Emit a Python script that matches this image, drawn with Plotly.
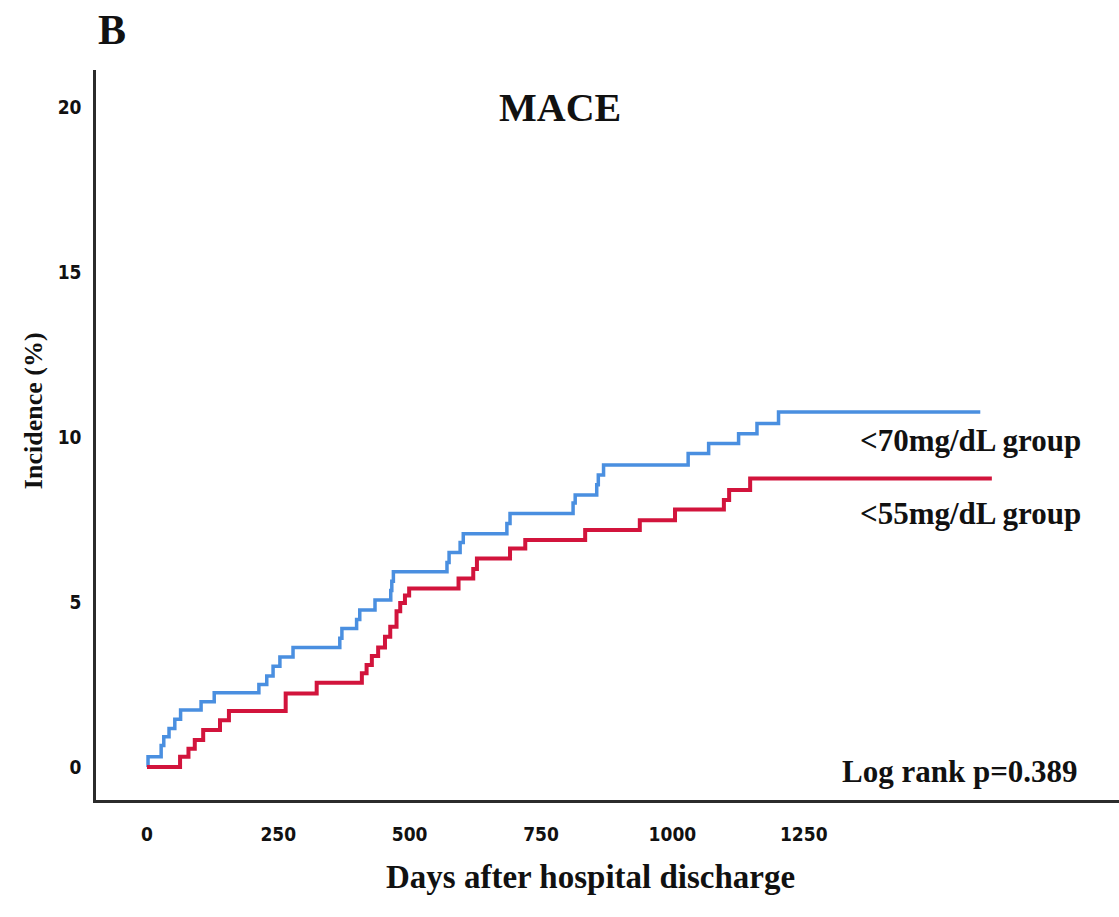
import plotly.graph_objects as go

# Cumulative incidence (%) step data, days after discharge
days_70 = [0, 2, 27, 32, 42, 53, 64, 103, 128, 213, 228, 240, 253, 278, 367, 371,
           399, 405, 434, 464, 466, 469, 571, 575, 596, 602, 685, 691, 811, 815,
           856, 859, 869, 1030, 1069, 1126, 1161, 1202, 1586]
inc_70 = [0, 0.31, 0.65, 0.92, 1.17, 1.45, 1.73, 1.98, 2.25, 2.5, 2.76, 3.05, 3.33,
          3.62, 3.9, 4.2, 4.47, 4.76, 5.06, 5.35, 5.63, 5.92, 6.2, 6.5, 6.8, 7.07,
          7.38, 7.68, 8.0, 8.24, 8.55, 8.85, 9.15, 9.5, 9.8, 10.1, 10.41, 10.76, 10.76]

days_55 = [0, 63, 79, 91, 107, 139, 156, 264, 323, 409, 418, 428, 440, 453, 463,
           475, 482, 491, 499, 593, 621, 628, 691, 720, 834, 938, 1005, 1098, 1108,
           1148, 1608]
inc_55 = [0, 0.31, 0.55, 0.82, 1.12, 1.42, 1.7, 2.23, 2.55, 2.84, 3.09, 3.36, 3.62,
          3.95, 4.25, 4.72, 4.97, 5.2, 5.41, 5.71, 6.0, 6.32, 6.62, 6.88, 7.18, 7.48,
          7.8, 8.09, 8.39, 8.74, 8.74]

x_ticks = [0, 250, 500, 750, 1000, 1250]
y_ticks = [0, 5, 10, 15, 20]

BLUE = "#4A8FE0"
RED = "#D2143C"
SERIF = "Liberation Serif, Times New Roman, serif"
NARROW = "DejaVu Sans Condensed, Liberation Sans Narrow, Arial Narrow, sans-serif"

fig = go.Figure()
fig.add_trace(go.Scatter(x=days_70, y=inc_70, mode="lines", line_shape="hv",
                         line=dict(color=BLUE, width=3.5), name="<70mg/dL group"))
fig.add_trace(go.Scatter(x=days_55, y=inc_55, mode="lines", line_shape="hv",
                         line=dict(color=RED, width=4), name="<55mg/dL group"))

tick_font = dict(family=NARROW, size=19, color="#111", weight="bold")

fig.update_layout(
    width=1119, height=917,
    margin=dict(l=96, r=0, t=70, b=117),
    paper_bgcolor="white", plot_bgcolor="white",
    showlegend=False,
    xaxis=dict(range=[-97, 1850], tickvals=x_ticks, ticks="", showgrid=False,
               zeroline=False, showline=True, linecolor="#2b2b2b", linewidth=2.5,
               tickfont=tick_font, ticklabelstandoff=15),
    yaxis=dict(range=[-1.0, 21.12], tickvals=y_ticks, ticks="", showgrid=False,
               zeroline=False, showline=True, linecolor="#2b2b2b", linewidth=2.5,
               tickfont=tick_font, ticklabelstandoff=8),
)

def note(text, x, y, size, xanchor="center", angle=0):
    fig.add_annotation(text=f"<b>{text}</b>", x=x, y=y, xref="paper", yref="paper",
                       xanchor=xanchor, yanchor="middle", showarrow=False,
                       textangle=angle, font=dict(family=SERIF, size=size, color="#111"))

note("B", 0.0156, 1.055, 42)
note("MACE", 0.4536, 0.949, 40)
note("&lt;70mg/dL group", 0.745, 0.493, 31, xanchor="left")
note("&lt;55mg/dL group", 0.745, 0.393, 31, xanchor="left")
note("Log rank p=0.389", 0.962, 0.0397, 31, xanchor="right")
note("Incidence (%)", -0.0616, 0.534, 26, angle=-90)
note("Days after hospital discharge", 0.483, -0.1055, 33)

fig.write_html("out.html")
